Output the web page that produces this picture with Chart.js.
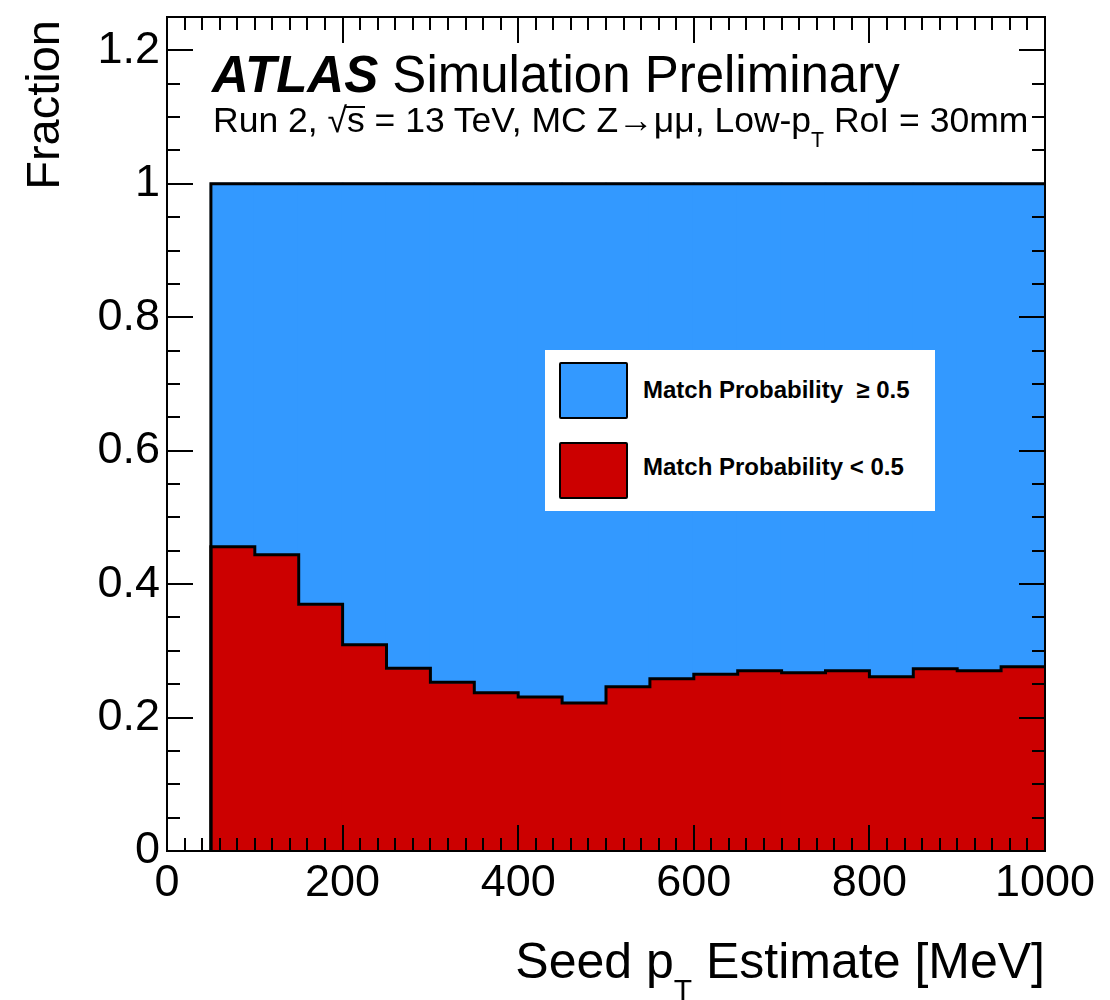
<!DOCTYPE html>
<html>
<head>
<meta charset="utf-8">
<script src="https://cdn.jsdelivr.net/npm/chart.js@4.4.0/dist/chart.umd.min.js"></script>
<style>
  body { margin: 0; background: #fff; }
  #wrap { position: relative; width: 1110px; height: 1000px; font-family: "Liberation Sans", Arial, Helvetica, sans-serif; color: #000; }
  #wrap canvas { position: absolute; left: 0; top: 0; }
  .txt { position: absolute; white-space: nowrap; line-height: 1; }
  .sub { font-size: 0.6em; position: relative; top: 0.72em; }
  .ovl { position: relative; }
  .ovl::before { content: ''; position: absolute; left: -1px; right: 0; top: 0.17em; border-top: 2px solid #000; }
  #atlas { left: 212px; top: 49px; font-size: 51px; }
  #atlas b { font-style: italic; }
  #info { left: 213px; top: 103px; font-size: 35.5px; }
  #xtitle { right: 65px; top: 936px; font-size: 50px; }
  #ytitle { left: 19px; top: 320px; width: 300px; text-align: right; font-size: 47px; transform-origin: left top; transform: rotate(-90deg); }
  #legend { position: absolute; left: 545px; top: 350px; width: 390px; height: 161px; background: #fff; }
  .swatch { position: absolute; left: 559px; width: 65px; height: 53px; border: 2px solid #000; border-radius: 2px; }
  .ltext { position: absolute; left: 643px; font-size: 24px; font-weight: bold; white-space: pre; line-height: 1; }
</style>
</head>
<body>
<div id="wrap">
  <canvas id="fracChart" width="1110" height="1000"></canvas>
  <div class="txt" id="atlas"><b>ATLAS</b> Simulation Preliminary</div>
  <div class="txt" id="info">Run 2, √<span class="ovl">s</span> = 13 TeV, MC Z→μμ, Low-p<span class="sub">T</span> RoI = 30mm</div>
  <div class="txt" id="xtitle">Seed p<span class="sub">T</span> Estimate [MeV]</div>
  <div class="txt" id="ytitle">Fraction</div>
  <div id="legend"></div>
  <div class="swatch" id="sw0" style="top:362px"></div>
  <div class="swatch" id="sw1" style="top:442px"></div>
  <div class="ltext" id="lt0" style="top:378px"></div>
  <div class="ltext" id="lt1" style="top:455px"></div>
</div>
<script>
// ---------- Data ----------
const binEdges = [50, 100, 150, 200, 250, 300, 350, 400, 450, 500, 550, 600, 650, 700, 750, 800, 850, 900, 950, 1000];
const lowMatch = [0.456, 0.444, 0.370, 0.309, 0.274, 0.253, 0.237, 0.231, 0.222, 0.246,
                  0.258, 0.265, 0.270, 0.267, 0.270, 0.261, 0.273, 0.270, 0.276];
const highMatch = [0.544, 0.556, 0.630, 0.691, 0.726, 0.747, 0.763, 0.769, 0.778, 0.754,
                   0.742, 0.735, 0.730, 0.733, 0.730, 0.739, 0.727, 0.730, 0.724];
const seriesLabels = ['Match Probability  \u2265 0.5', 'Match Probability < 0.5'];
const xTickValues = [0, 200, 400, 600, 800, 1000];
const yTickValues = [0, 0.2, 0.4, 0.6, 0.8, 1, 1.2];

const BLUE = '#3399ff';
const RED = '#cc0000';

// ---------- Build datasets ----------
const centers = lowMatch.map((_, i) => (binEdges[i] + binEdges[i + 1]) / 2);
const redBars = lowMatch.map((v, i) => ({ x: centers[i], y: v }));
const blueBars = highMatch.map((v, i) => ({ x: centers[i], y: [lowMatch[i], lowMatch[i] + v] }));

// outline of the red histogram (steps)
const redOutline = [{ x: binEdges[0], y: 0 }];
lowMatch.forEach((v, i) => redOutline.push({ x: binEdges[i], y: v }));
redOutline.push({ x: binEdges[binEdges.length - 1], y: lowMatch[lowMatch.length - 1] });

// outline of the stacked total
const last = lowMatch.length - 1;
const totalOutline = [
  { x: binEdges[0], y: 0 },
  { x: binEdges[0], y: lowMatch[0] + highMatch[0] },
  { x: binEdges[binEdges.length - 1], y: lowMatch[last] + highMatch[last] }
];

// ---------- Frame + inner ticks (ROOT style) ----------
const frameTicks = {
  id: 'frameTicks',
  afterDatasetsDraw(chart) {
    const { ctx, chartArea: a, scales: { x, y } } = chart;
    ctx.save();
    ctx.strokeStyle = '#000';
    ctx.lineWidth = 2;
    ctx.beginPath();
    for (let k = 0; k <= 50; k++) {
      const px = Math.round(x.getPixelForValue(k * 20));
      const len = k % 10 === 0 ? 26 : 13;
      ctx.moveTo(px, a.bottom); ctx.lineTo(px, a.bottom - len);
      ctx.moveTo(px, a.top); ctx.lineTo(px, a.top + len);
    }
    for (let k = 0; k <= 25; k++) {
      const py = Math.round(y.getPixelForValue(k * 0.05));
      const len = k % 4 === 0 ? 26 : 13;
      ctx.moveTo(a.left, py); ctx.lineTo(a.left + len, py);
      ctx.moveTo(a.right, py); ctx.lineTo(a.right - len, py);
    }
    ctx.stroke();
    ctx.strokeRect(a.left, a.top, a.right - a.left, a.bottom - a.top);
    ctx.restore();
  }
};

const tickFont = { family: '"Liberation Sans", Arial, sans-serif', size: 45 };
const barStyle = { grouped: false, barPercentage: 1, categoryPercentage: 1, borderWidth: 0, inflateAmount: 1, order: 1 };

const chart = new Chart(document.getElementById('fracChart'), {
  type: 'bar',
  data: {
    datasets: [
      { type: 'line', data: totalOutline, borderColor: '#000', borderWidth: 3, pointRadius: 0, fill: false, order: 0 },
      { type: 'line', data: redOutline, stepped: true, borderColor: '#000', borderWidth: 3, pointRadius: 0, fill: false, order: 0 },
      { label: seriesLabels[0], data: blueBars, backgroundColor: BLUE, ...barStyle },
      { label: seriesLabels[1], data: redBars, backgroundColor: RED, ...barStyle }
    ]
  },
  options: {
    responsive: false,
    devicePixelRatio: 1,
    animation: false,
    layout: { padding: { top: 17, right: 65, left: 0, bottom: 0 } },
    plugins: { legend: { display: false }, tooltip: { enabled: false } },
    scales: {
      x: {
        type: 'linear', min: 0, max: 1000, offset: false,
        grid: { display: false, drawTicks: false, offset: false },
        border: { display: false },
        ticks: { color: '#000', font: tickFont, padding: 6, maxRotation: 0, callback: v => String(v) },
        afterBuildTicks: s => { s.ticks = xTickValues.map(v => ({ value: v })); },
        afterFit: s => { s.height = 149; s.paddingLeft = 0; s.paddingRight = 0; }
      },
      y: {
        type: 'linear', min: 0, max: 1.25,
        grid: { display: false, drawTicks: false },
        border: { display: false },
        ticks: { color: '#000', font: tickFont, padding: 7, callback: v => String(Number(v.toFixed(1))) },
        afterBuildTicks: s => { s.ticks = yTickValues.map(v => ({ value: v })); },
        afterFit: s => { s.width = 167; s.paddingTop = 0; s.paddingBottom = 0; }
      }
    }
  },
  plugins: [frameTicks]
});

// ---------- Legend ----------
document.getElementById('sw0').style.background = BLUE;
document.getElementById('sw1').style.background = RED;
document.getElementById('lt0').textContent = seriesLabels[0];
document.getElementById('lt1').textContent = seriesLabels[1];
</script>
</body>
</html>
